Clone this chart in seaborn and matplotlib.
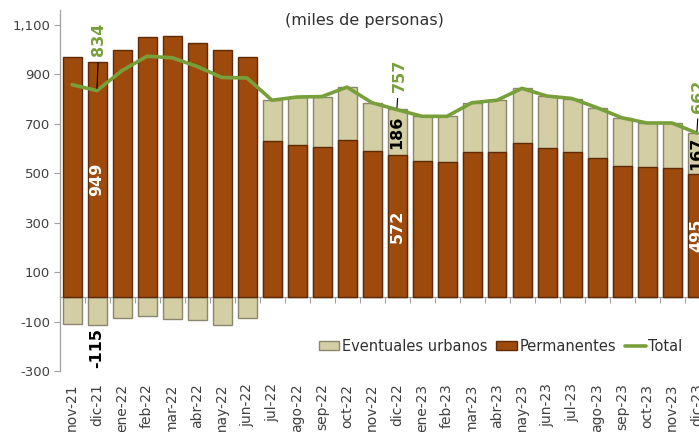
import numpy as np
import pandas as pd
import matplotlib
matplotlib.use("Agg")
import matplotlib.pyplot as plt
import seaborn as sns
from matplotlib.patches import Patch
from matplotlib.lines import Line2D
from matplotlib.ticker import FuncFormatter, FixedLocator

# ---------------- data ----------------
meses = ["nov-21", "dic-21", "ene-22", "feb-22", "mar-22", "abr-22", "may-22", "jun-22",
         "jul-22", "ago-22", "sep-22", "oct-22", "nov-22", "dic-22", "ene-23", "feb-23",
         "mar-23", "abr-23", "may-23", "jun-23", "jul-23", "ago-23", "sep-23", "oct-23",
         "nov-23", "dic-23"]
permanentes = [970, 949, 1000, 1050, 1055, 1025, 1000, 970,
               630, 614, 606, 634, 590, 572, 550, 545,
               586, 586, 622, 602, 586, 562, 529, 525, 521, 495]
eventuales = [-110, -115, -85, -77, -88, -93, -113, -85,
              165, 194, 204, 214, 195, 186, 180, 185,
              199, 209, 221, 210, 216, 203, 195, 178, 182, 167]
total = [858, 834, 915, 973, 967, 932, 887, 885,
         795, 808, 810, 848, 785, 757, 730, 730,
         785, 795, 843, 812, 802, 765, 724, 703, 703, 662]
etiquetas = [1, 13, 25]  # indices of labelled months

# label offsets (style only: distance of the green total label above the line)
label_offset = {1: 138, 13: 70, 25: 82}

C_PERM = "#9E4A0C"
C_PERM_EDGE = "#5E2A06"
C_EV = "#D3CEA4"
C_EV_EDGE = "#8A876C"
C_TOT = "#77A03A"
C_TXT = "#404040"

sns.set_theme(style="white")
plt.rcParams["font.family"] = ["DejaVu Sans"]

perm = np.array(permanentes)
ev = np.array(eventuales)
n = len(meses)
stack_top = np.where(ev > 0, perm + ev, ev)

df = pd.DataFrame({"mes": meses, "perm": perm, "top": stack_top, "total": total})

fig = plt.figure(figsize=(6.99, 4.32), dpi=100)
ax = fig.add_axes([60 / 699, 61 / 432, 639 / 699, 361 / 432])

sns.barplot(data=df, x="mes", y="top", color=C_EV, saturation=1, width=0.76,
            edgecolor=C_EV_EDGE, linewidth=1.0, ax=ax, zorder=2)
sns.barplot(data=df, x="mes", y="perm", color=C_PERM, saturation=1, width=0.76,
            edgecolor=C_PERM_EDGE, linewidth=1.0, ax=ax, zorder=3)
sns.lineplot(x=np.arange(n), y=df["total"], color=C_TOT, linewidth=2.6, ax=ax,
             zorder=5, sort=False)

ymin, ymax = -300, 1160
ax.set_xlim(-0.48, 25.08)
ax.set_ylim(ymin, ymax)

# y axis
ax.set_yticks(np.arange(-300, 1101, 200))
ax.yaxis.set_major_formatter(FuncFormatter(lambda v, p: f"{int(v):,}"))
ax.tick_params(axis="y", which="major", direction="out", length=4, width=0.8,
               color="#A0A0A0", labelsize=9.5, labelcolor=C_TXT, pad=3, left=True)
for s in ["top", "right"]:
    ax.spines[s].set_visible(False)
ax.spines["left"].set_color("#A0A0A0")
ax.spines["left"].set_linewidth(0.9)

# zero line with category-boundary ticks
ax.spines["bottom"].set_position(("data", 0))
ax.spines["bottom"].set_color("#A0A0A0")
ax.spines["bottom"].set_linewidth(0.9)
ax.xaxis.set_major_locator(FixedLocator(np.arange(n) + 0.5))
ax.tick_params(axis="x", which="major", direction="out", length=4, width=0.8,
               color="#A0A0A0", labelbottom=False, bottom=True)
ax.set_xlabel("")
ax.set_ylabel("")

# month labels at bottom
sec = ax.secondary_xaxis(-0.0)
sec.set_xticks(np.arange(n), labels=meses)
sec.tick_params(length=0, pad=9, labelsize=10, labelcolor=C_TXT, labelrotation=90)
sec.spines["bottom"].set_visible(False)

# title
ax.text(0.477, 0.972, "(miles de personas)", transform=ax.transAxes, ha="center",
        va="center", fontsize=11.5, color="#303030")

# data labels
for i in etiquetas:
    off = label_offset[i]
    # total (green) with leader line
    ax.annotate(f"{total[i]}", xy=(i, total[i] + 8), xytext=(i + 0.08, total[i] + off),
                rotation=90, ha="center", va="bottom", fontsize=11.5, fontweight="bold",
                color=C_TOT, zorder=6,
                arrowprops=dict(arrowstyle="-", color="black", lw=0.8, shrinkA=2, shrinkB=0))
    # permanentes (white, inside)
    ax.text(i, perm[i] / 2, f"{perm[i]}", rotation=90, ha="center", va="center",
            fontsize=11.5, fontweight="bold", color="white", zorder=6)
    # eventuales (black)
    if ev[i] < 0:
        ax.text(i, ev[i] - 12, f"{ev[i]}", rotation=90, ha="center", va="top",
                fontsize=11.5, fontweight="bold", color="black", zorder=6)
    else:
        ax.text(i, perm[i] + ev[i] / 2, f"{ev[i]}", rotation=90, ha="center",
                va="center", fontsize=11.5, fontweight="bold", color="black", zorder=6)

# legend
handles = [Patch(facecolor=C_EV, edgecolor=C_EV_EDGE, label="Eventuales urbanos"),
           Patch(facecolor=C_PERM, edgecolor=C_PERM_EDGE, label="Permanentes"),
           Line2D([0], [0], color=C_TOT, lw=2.6, label="Total")]
leg = ax.legend(handles=handles, loc="center right", bbox_to_anchor=(0.995, 0.069),
                ncol=3, frameon=False, fontsize=10.5, handlelength=1.4,
                handleheight=0.6, handletextpad=0.2, columnspacing=0.6)
for t in leg.get_texts():
    t.set_color("#303030")

fig.savefig("out.png", dpi=100)
